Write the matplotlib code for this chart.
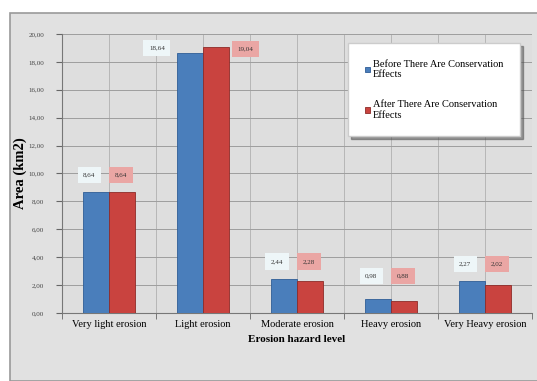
import matplotlib.pyplot as plt
import numpy as np
from matplotlib.patches import Rectangle

categories = ["Very light erosion", "Light erosion", "Moderate erosion",
              "Heavy erosion", "Very Heavy erosion"]
before = [8.64, 18.64, 2.44, 0.98, 2.27]
after = [8.64, 19.04, 2.28, 0.88, 2.02]
before_labels = ["8,64", "18,64", "2,44", "0,98", "2,27"]
after_labels = ["8,64", "19,04", "2,28", "0,88", "2,02"]
yticks = [0, 2, 4, 6, 8, 10, 12, 14, 16, 18, 20]

serif = "Liberation Serif"
blue = "#4a7ebb"
red = "#c9433f"

fig = plt.figure(figsize=(5.37, 3.81), dpi=100)
fig.patch.set_facecolor("white")
# grey chart frame
fig.patches.append(Rectangle((10 / 537, 0), 1, 1 - 13 / 381, transform=fig.transFigure,
                             facecolor="#e1e1e1", edgecolor="#9a9a9a", lw=1.2, zorder=-10))

ax = fig.add_axes([62 / 537, 1 - 313 / 381, 470 / 537, 279 / 381])
ax.set_facecolor("#dedede")

x = np.arange(len(categories))
w = 0.28
ax.bar(x - w / 2, before, w, color=blue, edgecolor="#2f5d96", lw=0.6, zorder=3,
       label="Before There Are Conservation\nEffects")
ax.bar(x + w / 2, after, w, color=red, edgecolor="#8e2b28", lw=0.6, zorder=3,
       label="After There Are Conservation\nEffects")

box_b = dict(boxstyle="square,pad=0.8", fc="#eef6f8", ec="none")
box_a = dict(boxstyle="square,pad=0.8", fc="#eaa6a4", ec="none")
for i in range(len(categories)):
    if i == 1:
        # tall bars: labels sit beside the bars
        xb, yb = x[i] - 1.75 * w, before[i] + 0.35
        xa, ya = x[i] + 1.6 * w, after[i] - 0.1
    else:
        lift = 1.65 if i == 3 else 1.25
        xb, yb = x[i] - 0.75 * w, before[i] + lift
        xa, ya = x[i] + 0.45 * w, after[i] + lift + (before[i] - after[i])
    ax.text(xb, yb, before_labels[i], ha="center", va="center", fontsize=5,
            family=serif, color="#333333", zorder=5, bbox=box_b)
    ax.text(xa, ya, after_labels[i], ha="center", va="center", fontsize=5,
            family=serif, color="#333333", zorder=5, bbox=box_a)

ax.set_xlim(-0.5, 4.5)
ax.set_ylim(0, 20)
ax.set_yticks(yticks)
ax.set_yticklabels([f"{v:.2f}".replace(".", ",") for v in yticks], fontsize=5,
                   family=serif, color="#444444")
ax.set_xticks(x)
ax.set_xticklabels(categories, fontsize=7.5, family=serif)
ax.set_xticks(np.arange(-0.5, 5, 1), minor=True)
ax.tick_params(axis="x", which="major", length=0, pad=5)
ax.tick_params(axis="x", which="minor", length=4, color="#666666")
ax.tick_params(axis="y", length=4, color="#666666", pad=9)

ax.grid(True, axis="y", color="#9e9e9e", lw=0.7, zorder=0)
ax.grid(True, axis="x", which="both", color="#b0b0b0", lw=0.6, zorder=0)
for s in ["top", "right"]:
    ax.spines[s].set_visible(False)
ax.spines["left"].set_color("#777777")
ax.spines["bottom"].set_color("#777777")

ax.set_ylabel("Area (km2)", fontsize=10.5, family=serif, fontweight="bold", labelpad=1)
ax.set_xlabel("Erosion hazard level", fontsize=8, family=serif, fontweight="bold", labelpad=4)

leg = ax.legend(loc="upper right", bbox_to_anchor=(0.985, 0.985), prop={"family": serif, "size": 7.5},
                frameon=True, fancybox=False, shadow=True, handlelength=0.45, handleheight=0.45,
                handletextpad=0.3, labelspacing=2.0, borderpad=1.6)
leg.get_frame().set_facecolor("white")
leg.get_frame().set_edgecolor("#cccccc")

plt.savefig("out.png", dpi=100)
